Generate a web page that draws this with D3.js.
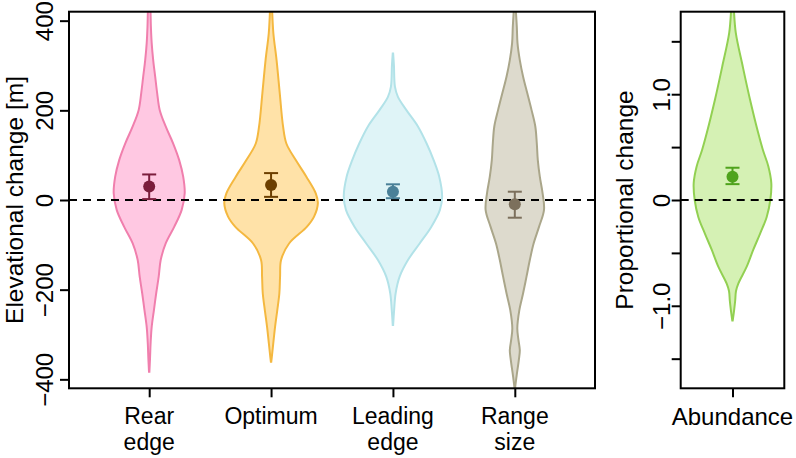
<!DOCTYPE html>
<html><head><meta charset="utf-8">
<script src="https://cdn.jsdelivr.net/npm/d3@7"></script>
<style>
body{margin:0;background:#fff}
svg text{font-family:"Liberation Sans",Arial,Helvetica,sans-serif;fill:#000}
</style>
</head><body><svg id="chart" width="796" height="458"></svg>
<script>
// ---------------- data ----------------
const categories = ["Rear edge", "Optimum", "Leading edge", "Range size"];
const categoryLabels = [["Rear", "edge"], ["Optimum"], ["Leading", "edge"], ["Range", "size"]];
const elevTicks = [-400, -200, 0, 200, 400];
const elevTickLabels = ["−400", "−200", "0", "200", "400"];
const propTicks = [-1.5, -1, -0.5, 0, 0.5, 1, 1.5];
const propTickLabels = ["", "−1.0", "", "0", "", "1.0", ""];

const means = [30, 33.5, 18.5, -9.6];
const lowers = [2, 7, 4, -39.5];
const uppers = [57, 60, 35, 18.5];

const abundanceLabel = "Abundance";
const abundanceMean = 0.22;
const abundanceLower = 0.15;
const abundanceUpper = 0.305;

// violin density profiles (value, relative density)
const rearY = [450, 424, 387, 350, 312, 275, 238, 201, 164, 126, 89, 52, 15, -22, -60, -97, -134, -171, -208, -246, -283, -320, -355, -383];
const rearD = [0.01, 0.025, 0.034, 0.05, 0.08, 0.12, 0.16, 0.21, 0.33, 0.48, 0.6, 0.68, 0.71, 0.65, 0.5, 0.33, 0.23, 0.19, 0.14, 0.094, 0.05, 0.028, 0.016, 0.004];

const optY = [440, 424, 372, 312, 238, 164, 126, 89, 52, 15, -7, -37, -60, -97, -134, -171, -208, -246, -283, -320, -345, -361];
const optD = [0.01, 0.02, 0.046, 0.11, 0.174, 0.24, 0.306, 0.494, 0.706, 0.894, 0.936, 0.86, 0.714, 0.36, 0.2, 0.18, 0.166, 0.124, 0.08, 0.044, 0.02, 0.004];

const leadY = [327, 300, 253, 230, 201, 164, 126, 89, 52, 7, -22, -60, -97, -134, -171, -208, -245, -279];
const leadD = [0.004, 0.02, 0.04, 0.1, 0.266, 0.5, 0.674, 0.814, 0.926, 0.984, 0.94, 0.766, 0.534, 0.3, 0.134, 0.054, 0.024, 0.004];

const rangeY = [440, 424, 387, 350, 312, 275, 238, 201, 164, 126, 89, 52, 15, -22, -60, -97, -134, -171, -208, -246, -286, -310, -335, -357, -394, -420, -440];
const rangeD = [0.01, 0.02, 0.04, 0.054, 0.1, 0.166, 0.25, 0.334, 0.41, 0.44, 0.46, 0.5, 0.556, 0.584, 0.484, 0.376, 0.3, 0.234, 0.166, 0.09, 0.05, 0.07, 0.1, 0.08, 0.034, 0.006, 0.002];

const abunY = [1.9, 1.78, 1.58, 1.26, 0.95, 0.63, 0.47, 0.32, 0.16, 0, -0.16, -0.32, -0.47, -0.63, -0.79, -0.86, -0.95, -1.05, -1.14];
const abunD = [0.02, 0.03, 0.066, 0.206, 0.35, 0.516, 0.61, 0.716, 0.776, 0.756, 0.684, 0.55, 0.416, 0.284, 0.116, 0.07, 0.054, 0.03, 0.004];

const violinFill = ["#ffc8e2", "#ffe2a8", "#dff4f7", "#dddacd"];
const violinStroke = ["#f07fad", "#f4b840", "#b2e2e8", "#aaa68a"];
const pointColor = ["#7b1d3c", "#6c3f00", "#4a8098", "#7c705c"];
const abunFill = "#d5f1b4", abunStroke = "#92d052", abunPoint = "#4fa31c";

// ---------------- layout ----------------
const svg = d3.select("#chart");
svg.append("rect").attr("width", 796).attr("height", 458).attr("fill", "#fff");

const L = {left: 69, right: 595, top: 11.7, bottom: 388.3};
const R = {left: 680.7, right: 784.3, top: 11.7, bottom: 388.3};
const FONT = "'Liberation Sans', Arial, Helvetica, sans-serif";

const x = d3.scaleLinear().domain([0.342, 4.658]).range([L.left, L.right]);
const y = d3.scaleLinear().domain([-420, 420]).range([L.bottom, L.top]);
const x2 = d3.scaleLinear().domain([0.5, 1.5]).range([R.left, R.right]);
const y2 = d3.scaleLinear().domain([-1.78, 1.78]).range([R.bottom, R.top]);
const w = d3.scaleLinear().domain([0, 1]).range([0, 50]);

const defs = svg.append("defs");
defs.append("clipPath").attr("id", "clipL").append("rect")
  .attr("x", L.left).attr("y", L.top).attr("width", L.right - L.left).attr("height", L.bottom - L.top);
defs.append("clipPath").attr("id", "clipR").append("rect")
  .attr("x", R.left).attr("y", R.top).attr("width", R.right - R.left).attr("height", R.bottom - R.top);

function violinPath(xc, ys, vals, dens) {
  const pts = vals.map((v, i) => [v, dens[i]]);
  return d3.area().curve(d3.curveCatmullRom.alpha(0.5))
    .y(d => ys(d[0])).x0(d => xc - w(d[1])).x1(d => xc + w(d[1]))(pts);
}

// left panel violins
const profiles = [[rearY, rearD], [optY, optD], [leadY, leadD], [rangeY, rangeD]];
const gV = svg.append("g").attr("clip-path", "url(#clipL)");
profiles.forEach((p, i) => {
  gV.append("path").attr("d", violinPath(x(i + 1), y, p[0], p[1]))
    .attr("fill", violinFill[i]).attr("stroke", violinStroke[i]).attr("stroke-width", 2);
});
// right panel violin
const gV2 = svg.append("g").attr("clip-path", "url(#clipR)");
gV2.append("path").attr("d", violinPath(x2(1), y2, abunY, abunD))
  .attr("fill", abunFill).attr("stroke", abunStroke).attr("stroke-width", 2);

// zero lines
svg.append("line").attr("x1", L.left).attr("x2", L.right).attr("y1", y(0)).attr("y2", y(0))
  .attr("stroke", "#000").attr("stroke-width", 2).attr("stroke-dasharray", "8,6");
svg.append("line").attr("x1", R.left).attr("x2", R.right).attr("y1", y2(0)).attr("y2", y2(0))
  .attr("stroke", "#000").attr("stroke-width", 2).attr("stroke-dasharray", "8,6");

// error bars and points
function errPoint(g, xc, ys, m, lo, hi, col) {
  const cap = 7;
  g.append("line").attr("x1", xc).attr("x2", xc).attr("y1", ys(lo)).attr("y2", ys(hi)).attr("stroke", col).attr("stroke-width", 2);
  [lo, hi].forEach(v => g.append("line").attr("x1", xc - cap).attr("x2", xc + cap).attr("y1", ys(v)).attr("y2", ys(v)).attr("stroke", col).attr("stroke-width", 2));
  g.append("circle").attr("cx", xc).attr("cy", ys(m)).attr("r", 6).attr("fill", col);
}
const gP = svg.append("g");
categories.forEach((c, i) => errPoint(gP, x(i + 1), y, means[i], lowers[i], uppers[i], pointColor[i]));
errPoint(gP, x2(1), y2, abundanceMean, abundanceLower, abundanceUpper, abunPoint);

// boxes
[L, R].forEach(b => svg.append("rect").attr("x", b.left).attr("y", b.top)
  .attr("width", b.right - b.left).attr("height", b.bottom - b.top)
  .attr("fill", "none").attr("stroke", "#000").attr("stroke-width", 2));

// axes
function styleAxis(g) {
  g.attr("font-family", FONT).attr("font-size", 24);
  g.select(".domain").remove();
  g.selectAll(".tick line").attr("stroke", "#000").attr("stroke-width", 2);
}
const gy = svg.append("g").attr("transform", `translate(${L.left},0)`)
  .call(d3.axisLeft(y).tickValues(elevTicks).tickFormat((d, i) => elevTickLabels[i]).tickSize(9));
styleAxis(gy);
gy.selectAll(".tick text").attr("transform", "rotate(-90)").attr("x", 0).attr("y", -16)
  .attr("dy", null).attr("text-anchor", "middle").attr("fill", "#000");

const gy2 = svg.append("g").attr("transform", `translate(${R.left},0)`)
  .call(d3.axisLeft(y2).tickValues(propTicks).tickFormat((d, i) => propTickLabels[i]).tickSize(9));
styleAxis(gy2);
gy2.selectAll(".tick text").attr("transform", "rotate(-90)").attr("x", 0).attr("y", -11)
  .attr("dy", null).attr("text-anchor", "middle").attr("fill", "#000");

const gx = svg.append("g").attr("transform", `translate(0,${L.bottom})`)
  .call(d3.axisBottom(x).tickValues([1, 2, 3, 4]).tickFormat(() => "").tickSize(9));
styleAxis(gx);
const gx2 = svg.append("g").attr("transform", `translate(0,${R.bottom})`)
  .call(d3.axisBottom(x2).tickValues([1]).tickFormat(() => "").tickSize(9));
styleAxis(gx2);

// category labels
categoryLabels.forEach((lines, i) => {
  lines.forEach((t, j) => {
    svg.append("text").attr("x", x(i + 1)).attr("y", 424 + j * 26)
      .attr("text-anchor", "middle").attr("font-size", 23).text(t);
  });
});
svg.append("text").attr("x", x2(1)).attr("y", 425).attr("text-anchor", "middle")
  .attr("font-size", 24).text(abundanceLabel);

// axis titles
svg.append("text").attr("transform", `translate(22.5,${(L.top + L.bottom) / 2}) rotate(-90)`)
  .attr("text-anchor", "middle").attr("font-size", 24.5).text("Elevational change [m]");
svg.append("text").attr("transform", `translate(633,${(R.top + R.bottom) / 2}) rotate(-90)`)
  .attr("text-anchor", "middle").attr("font-size", 24.5).text("Proportional change");
</script>
</body></html>
